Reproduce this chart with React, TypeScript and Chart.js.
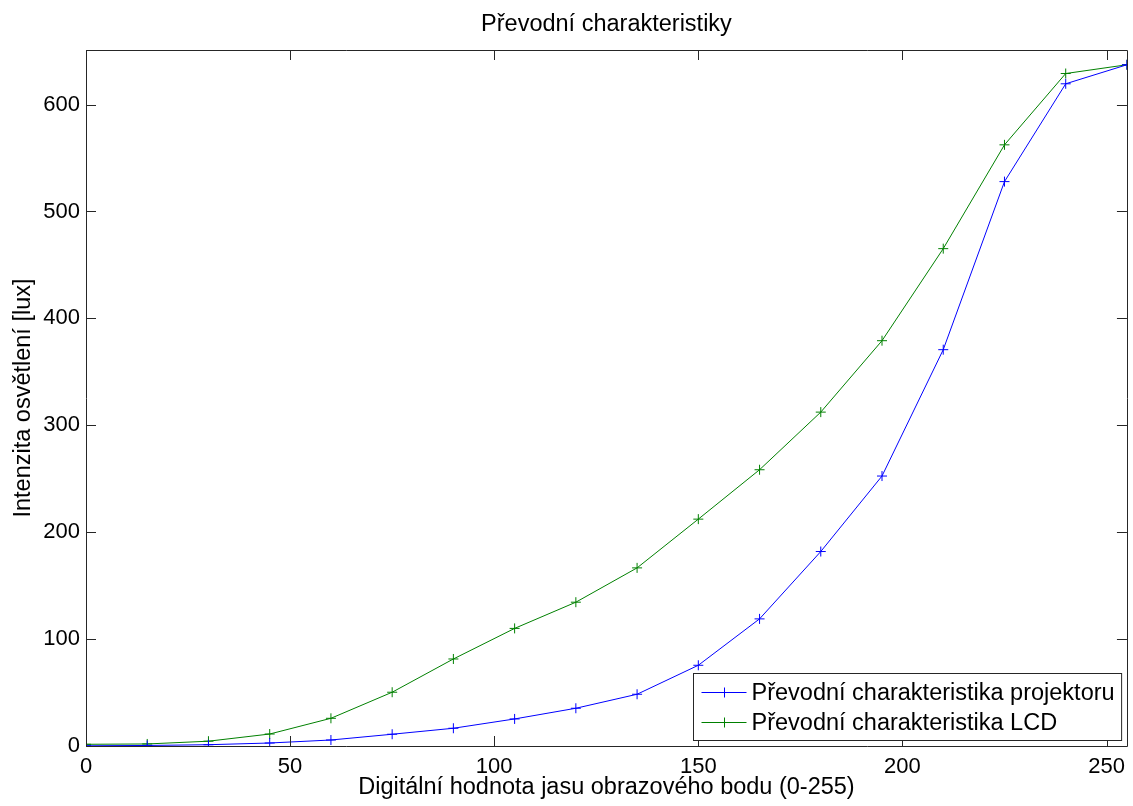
import React, { useEffect, useRef } from "react";
import { Chart, registerables } from "chart.js";

Chart.register(...registerables);

const xValues = [0, 15, 30, 45, 60, 75, 90, 105, 120, 135, 150, 165, 180, 195, 210, 225, 240, 255];
const projektor = [0.2, 0.5, 1.2, 2.8, 5.6, 11.0, 16.6, 25.3, 35.3, 48.4, 75.5, 118.9, 181.9, 252.5, 370.7, 527.9, 619.4, 637.2];
const lcd = [1.6, 1.9, 4.5, 11.2, 25.9, 50.3, 81.4, 110.0, 134.5, 166.6, 212.2, 258.4, 312.3, 379.1, 465.2, 562.3, 629.0, 637.2];
const xTicks = [0, 50, 100, 150, 200, 250];
const yTicks = [0, 100, 200, 300, 400, 500, 600];
const seriesLabels = ["Převodní charakteristika projektoru", "Převodní charakteristika LCD"];
const titleText = "Převodní charakteristiky";
const xTitle = "Digitální hodnota jasu obrazového bodu (0-255)";
const yTitle = "Intenzita osvětlení [lux]";

const FONT = "'Liberation Sans', Arial, Helvetica, sans-serif";
const FS = 23.5;
const TICK_FS = 22;

const boxPlugin = {
  id: "matlabBox",
  afterDatasetsDraw(chart: any) {
    const { ctx, chartArea, scales } = chart;
    const { left, right, top, bottom } = chartArea;
    const tl = 10;
    ctx.save();
    ctx.strokeStyle = "#262626";
    ctx.lineWidth = 1;
    ctx.beginPath();
    ctx.rect(Math.round(left) + 0.5, Math.round(top) + 0.5, Math.round(right - left), Math.round(bottom - top));
    ctx.stroke();
    ctx.beginPath();
    for (const v of xTicks) {
      const px = Math.round(scales.x.getPixelForValue(v)) + 0.5;
      ctx.moveTo(px, bottom);
      ctx.lineTo(px, bottom - tl);
      ctx.moveTo(px, top);
      ctx.lineTo(px, top + tl);
    }
    for (const v of yTicks) {
      const py = Math.round(scales.y.getPixelForValue(v)) + 0.5;
      ctx.moveTo(left, py);
      ctx.lineTo(left + tl, py);
      ctx.moveTo(right, py);
      ctx.lineTo(right - tl, py);
    }
    ctx.stroke();

    // title centred over the axes
    ctx.font = `${FS}px ${FONT}`;
    ctx.fillStyle = "#000000";
    ctx.textAlign = "center";
    ctx.textBaseline = "middle";
    ctx.fillText(titleText, (left + right) / 2, 25);

    // legend
    const datasets = chart.data.datasets;
    let maxW = 0;
    for (const d of datasets) maxW = Math.max(maxW, ctx.measureText(d.label).width);
    const lineLen = 45;
    const padL = 8;
    const gap = 5;
    const padR = 7;
    const rowH = 30.5;
    const boxW = padL + lineLen + gap + maxW + padR;
    const boxH = rowH * datasets.length + 6;
    const bx = Math.round(right - 6 - boxW) + 0.5;
    const by = Math.round(bottom - 6 - boxH) + 0.5;
    ctx.fillStyle = "#ffffff";
    ctx.fillRect(bx, by, boxW, boxH);
    ctx.strokeStyle = "#262626";
    ctx.strokeRect(bx, by, boxW, boxH);
    datasets.forEach((d: any, i: number) => {
      const cy = Math.round(by + 3 + rowH * (i + 0.5)) + 0.5;
      const x0 = bx + padL;
      ctx.strokeStyle = d.borderColor;
      ctx.lineWidth = 1;
      ctx.beginPath();
      ctx.moveTo(x0, cy);
      ctx.lineTo(x0 + lineLen, cy);
      const mx = Math.round(x0 + lineLen / 2) + 0.5;
      ctx.moveTo(mx, cy - 5);
      ctx.lineTo(mx, cy + 5);
      ctx.stroke();
      ctx.fillStyle = "#000000";
      ctx.textBaseline = "middle";
      ctx.textAlign = "left";
      ctx.fillText(d.label, x0 + lineLen + gap, cy + 1);
    });
    ctx.restore();
  },
};

export default function App() {
  const ref = useRef<HTMLCanvasElement | null>(null);
  useEffect(() => {
    const canvas = ref.current;
    if (!canvas) return;
    const chart = new Chart(canvas, {
      type: "line",
      data: {
        datasets: [
          {
            label: seriesLabels[0],
            data: xValues.map((x, i) => ({ x, y: projektor[i] })),
            borderColor: "#0000ff",
            backgroundColor: "#0000ff",
            borderWidth: 1,
            pointStyle: "cross",
            pointRadius: 5,
            pointBorderWidth: 1,
            pointBorderColor: "#0000ff",
            tension: 0,
            fill: false,
          },
          {
            label: seriesLabels[1],
            data: xValues.map((x, i) => ({ x, y: lcd[i] })),
            borderColor: "#008000",
            backgroundColor: "#008000",
            borderWidth: 1,
            pointStyle: "cross",
            pointRadius: 5,
            pointBorderWidth: 1,
            pointBorderColor: "#008000",
            tension: 0,
            fill: false,
          },
        ],
      },
      options: {
        responsive: false,
        animation: false,
        layout: { padding: { left: 0, right: 5, top: 50, bottom: 0 } },
        plugins: {
          legend: { display: false },
          tooltip: { enabled: false },
          title: { display: false },
        },
        scales: {
          x: {
            type: "linear",
            min: 0,
            max: 255,
            afterBuildTicks: (s: any) => {
              s.ticks = xTicks.map((v) => ({ value: v }));
            },
            afterFit: (s: any) => {
              s.height = 60;
            },
            grid: { display: false, drawTicks: false },
            border: { display: false },
            ticks: {
              color: "#000000",
              font: { family: FONT, size: TICK_FS },
              padding: 8,
              maxRotation: 0,
              autoSkip: false,
            },
            title: {
              display: true,
              text: xTitle,
              color: "#000000",
              font: { family: FONT, size: FS, lineHeight: 1.2 },
              padding: { top: 0, bottom: 4 },
            },
          },
          y: {
            type: "linear",
            min: 0,
            max: 651,
            afterBuildTicks: (s: any) => {
              s.ticks = yTicks.map((v) => ({ value: v }));
            },
            afterFit: (s: any) => {
              s.width = 86;
            },
            grid: { display: false, drawTicks: false },
            border: { display: false },
            ticks: {
              color: "#000000",
              font: { family: FONT, size: TICK_FS },
              padding: 6,
              autoSkip: false,
            },
            title: {
              display: true,
              text: yTitle,
              color: "#000000",
              font: { family: FONT, size: FS, lineHeight: 1.2 },
              padding: { top: 9, bottom: 0 },
            },
          },
        },
      },
      plugins: [boxPlugin],
    });
    return () => chart.destroy();
  }, []);
  return (
    <div style={{ position: "absolute", left: 0, top: 0, width: 1133, height: 806, background: "#ffffff" }}>
      <canvas ref={ref} width={1133} height={806} style={{ display: "block", width: 1133, height: 806 }} />
    </div>
  );
}
